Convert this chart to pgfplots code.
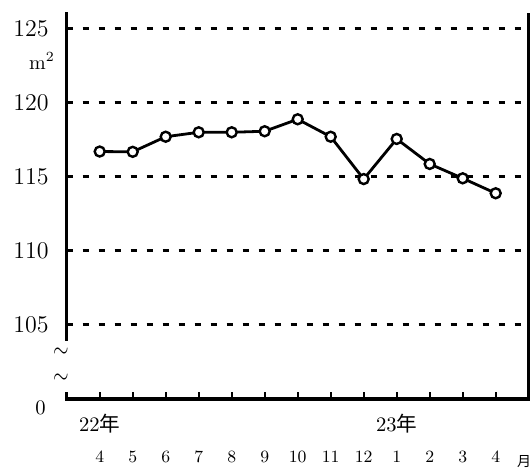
\documentclass[border=0pt]{standalone}
\usepackage{pgfplots}
\pgfplotsset{compat=1.18}
\usepackage{fontspec}
\newfontfamily\cjk{Noto Sans CJK JP}

\begin{document}
\begin{tikzpicture}
\useasboundingbox (0,0) rectangle (265.5pt,235pt);
\begin{axis}[
  at={(33.35pt,35.5pt)}, anchor=south west,
  scale only axis, width=231pt, height=192.85pt,
  xmin=-1, xmax=13, ymin=100, ymax=126.06,
  axis line style={draw=none},
  xtick={0,...,12}, xticklabels={4,5,6,7,8,9,10,11,12,1,2,3,4},
  ytick={105,110,115,120,125},
  xtick pos=bottom, ytick pos=left,
  tick align=inside,
  major tick length=3.5pt,
  xtick style={black, line width=1pt},
  ytick style={draw=none},
  ymajorgrids,
  major grid style={black, line width=1.5pt, dash pattern=on 3pt off 5pt},
  xticklabel style={font=\fontsize{8.6}{10}\selectfont, anchor=center, yshift=-29pt},
  yticklabel style={font=\fontsize{11.9}{14}\selectfont, anchor=east, inner sep=0pt, xshift=-8.85pt},
  clip=false,
]
\addplot[black, line width=1.4pt, mark=*, mark size=2.5pt,
  mark options={fill=white, draw=black, line width=1.2pt}]
  coordinates {
  (0,116.72) (1,116.70) (2,117.72) (3,118.02) (4,118.02) (5,118.09)
  (6,118.90) (7,117.72) (8,114.86) (9,117.57) (10,115.88) (11,114.91) (12,113.90)
  };
\draw[line width=1.65pt, line cap=rect] (rel axis cs:0,1) -- (axis cs:-1,104.05);
\draw[line width=1.65pt] (axis cs:-1,100.45) -- (axis cs:-1,100);
\draw[line width=1.65pt, line cap=rect] (rel axis cs:0,0) -- (rel axis cs:1,0);
\draw[line width=1.4pt] (rel axis cs:1,0) -- (rel axis cs:1,1);
\node[font=\fontsize{10}{11}\selectfont, inner sep=0pt] at (axis cs:-1,103.1) [xshift=-2.85pt] {\scalebox{1}[1.3]{$\sim$}};
\node[font=\fontsize{10}{11}\selectfont, inner sep=0pt] at (axis cs:-1,101.35) [xshift=-2.85pt] {\scalebox{1}[1.3]{$\sim$}};
\node[font=\fontsize{10.3}{12}\selectfont, inner sep=0pt] at (axis cs:0,100) [yshift=-12.5pt] {22{\cjk 年}};
\node[font=\fontsize{10.3}{12}\selectfont, inner sep=0pt] at (axis cs:9,100) [yshift=-12.5pt] {23{\cjk 年}};
\node[anchor=east, inner sep=0pt, font=\fontsize{10.3}{12}\selectfont] at (rel axis cs:0,0) [xshift=-10.35pt, yshift=-4.65pt] {0};
\node[inner sep=0pt, font=\fontsize{10}{11}\selectfont] at (axis cs:-1,122.84) [xshift=-12.35pt] {m$^{2}$};
\node[anchor=north west, inner sep=0pt, font=\fontsize{7}{8}\selectfont] at (axis cs:13,100) [xshift=-6pt, yshift=-28pt] {\cjk 月};
\end{axis}
\end{tikzpicture}
\end{document}
